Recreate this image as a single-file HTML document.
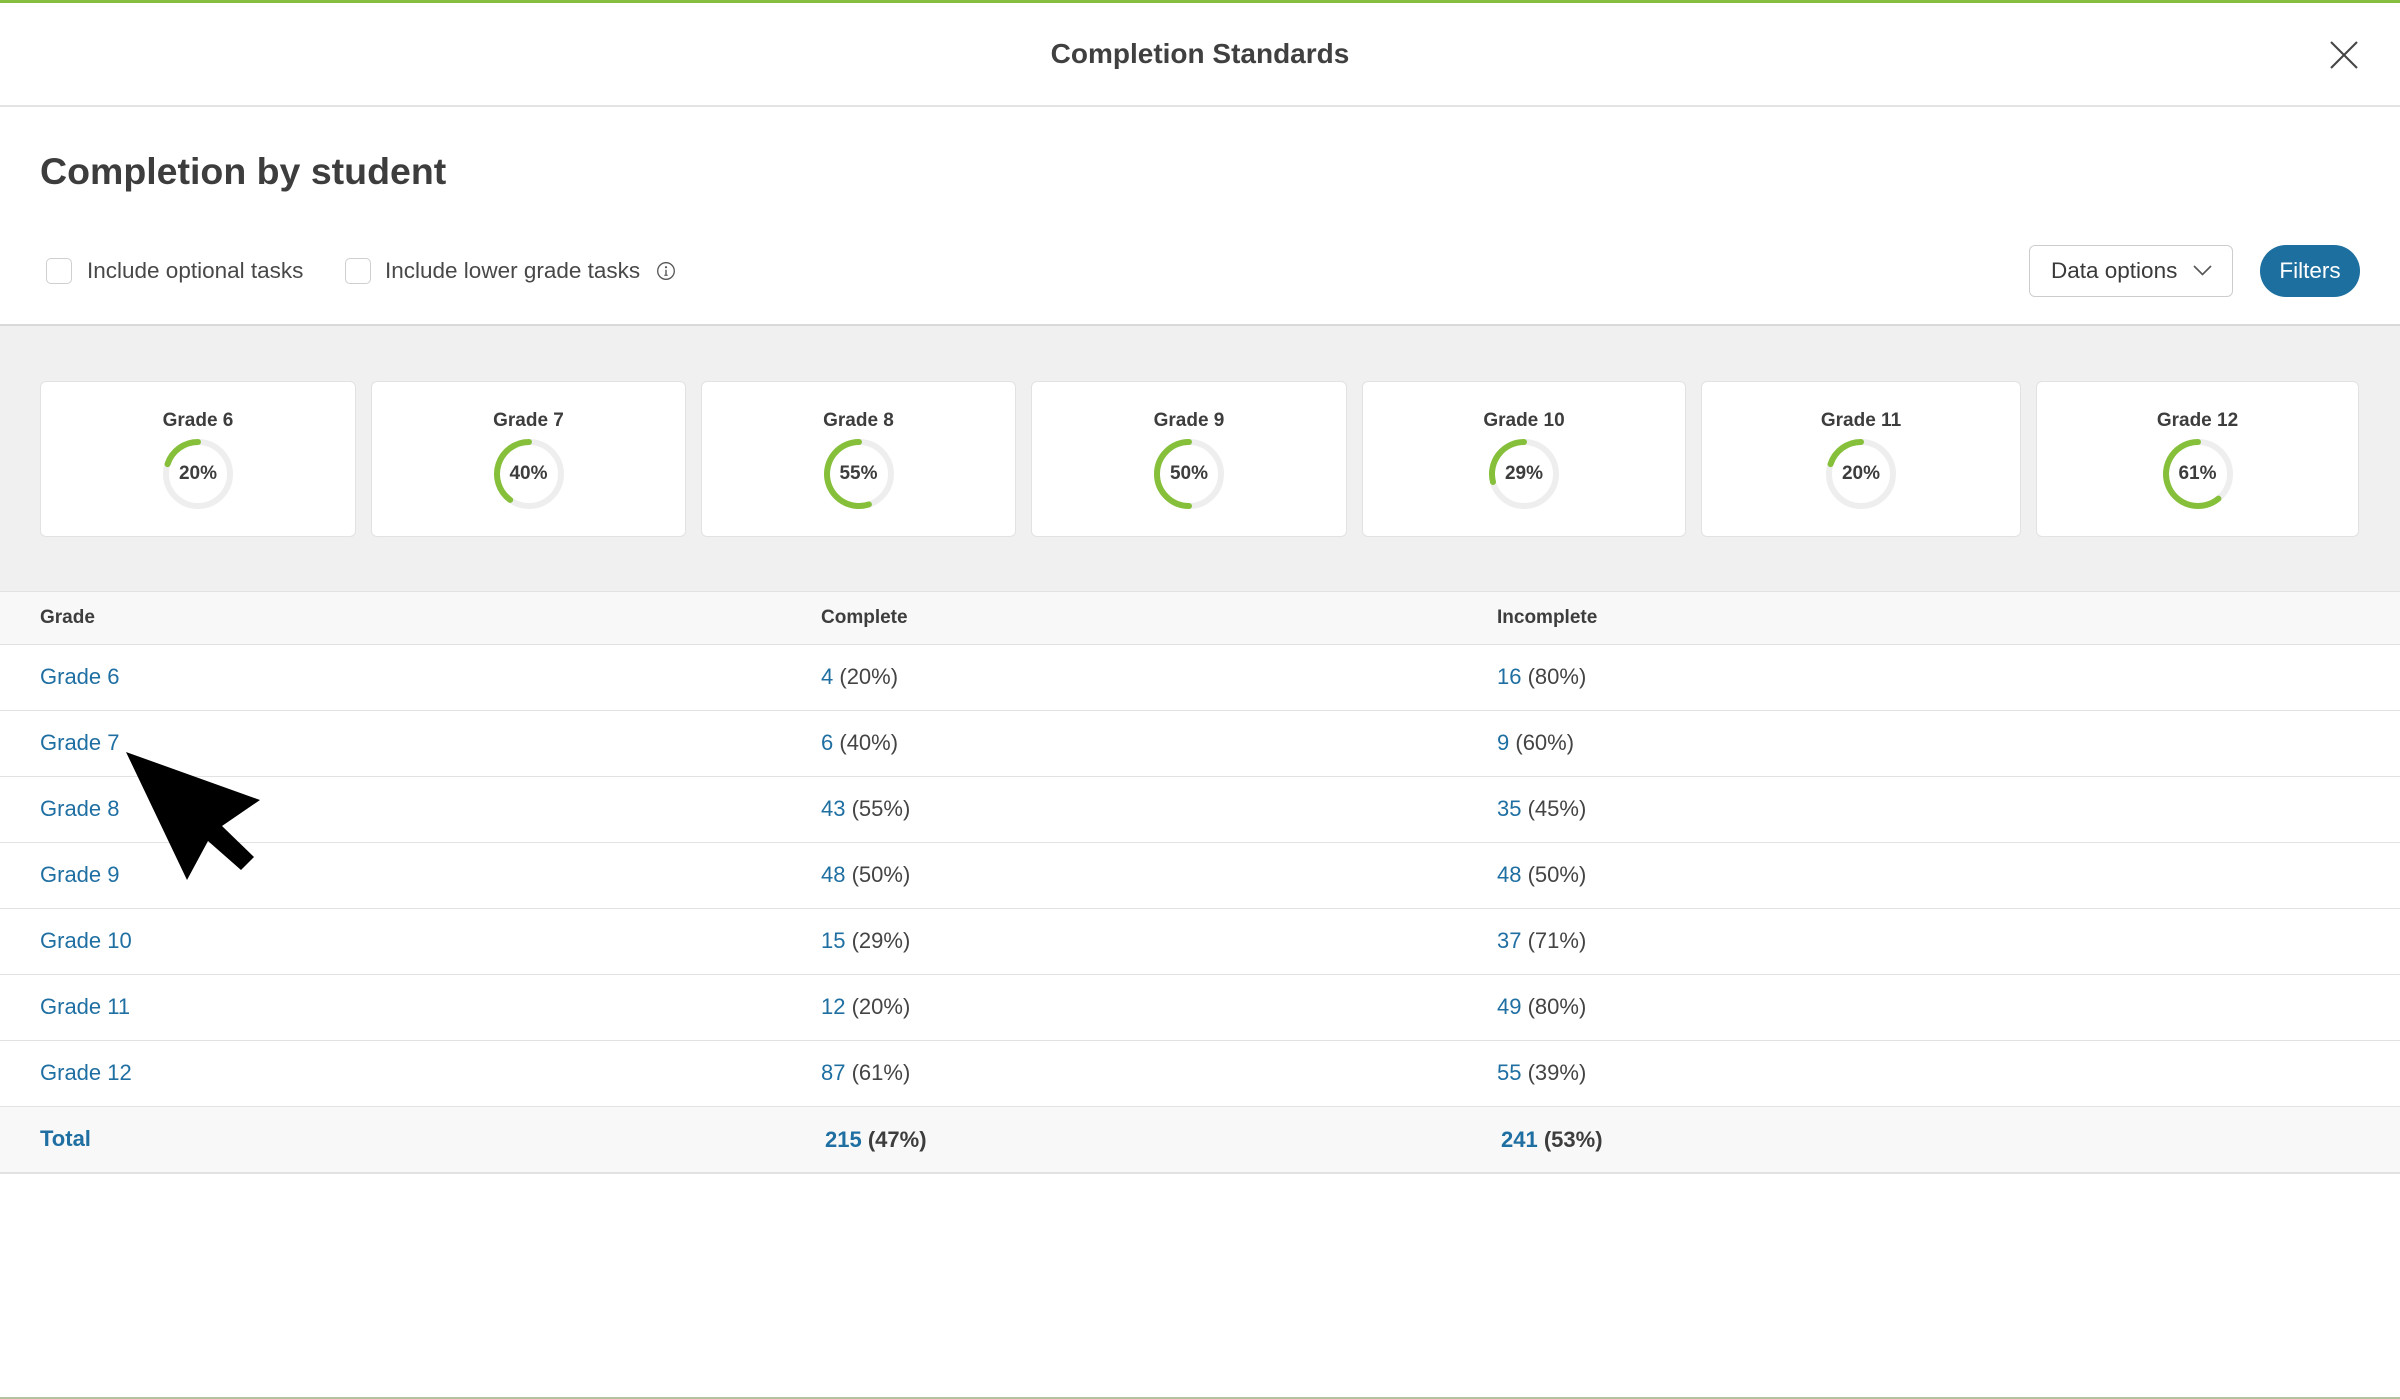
<!DOCTYPE html>
<html>
<head>
<meta charset="utf-8">
<style>
  html,body{margin:0;padding:0;}
  body{width:2400px;height:1399px;position:relative;background:#fff;overflow:hidden;font-family:"Liberation Sans",Arial,sans-serif;color:#404040;}
  .abs{position:absolute;}
  .t{position:absolute;white-space:nowrap;}
  .card{position:absolute;top:381px;height:154px;background:#fff;border:1px solid #e2e2e2;border-radius:6px;}
  .card .ct{position:absolute;left:0;right:0;top:29px;text-align:center;font-weight:bold;font-size:19px;line-height:19px;color:#3d3d3d;}
  .card svg{position:absolute;left:50%;top:52px;margin-left:-40px;}
  .card .pv{position:absolute;left:0;right:0;top:82px;text-align:center;font-weight:bold;font-size:19px;line-height:19px;color:#3d3d3d;}
  .hline{position:absolute;left:0;width:2400px;height:1px;background:#e2e2e2;}
  .cell{position:absolute;font-size:22px;line-height:22px;white-space:nowrap;color:#444;}
  .lnk{color:#1f6fa2;}
  .hd{position:absolute;font-size:19px;line-height:19px;font-weight:bold;color:#3d3d3d;white-space:nowrap;}
</style>
</head>
<body>
<!-- top green bar -->
<div class="abs" style="left:0;top:0;width:2400px;height:3px;background:#86bf3f;"></div>

<!-- header -->
<div class="t" style="left:0;width:2400px;top:40px;text-align:center;font-weight:bold;font-size:28px;line-height:28px;color:#404040;">Completion Standards</div>
<svg class="abs" style="left:2326px;top:37px;" width="36" height="36" viewBox="0 0 36 36">
  <line x1="5" y1="5" x2="31" y2="31" stroke="#444" stroke-width="2"/>
  <line x1="31" y1="5" x2="5" y2="31" stroke="#444" stroke-width="2"/>
</svg>
<div class="abs" style="left:0;top:105px;width:2400px;height:2px;background:#e4e4e4;"></div>

<!-- section heading -->
<div class="t" style="left:40px;top:153px;font-weight:bold;font-size:37.5px;line-height:37.5px;color:#3d3d3d;">Completion by student</div>

<!-- checkboxes -->
<div class="abs" style="left:46px;top:258px;width:24px;height:24px;border:1px solid #cfcfcf;border-radius:5px;background:#fff;"></div>
<div class="t" style="left:87px;top:260px;font-size:22.5px;line-height:22.5px;color:#484848;">Include optional tasks</div>
<div class="abs" style="left:345px;top:258px;width:24px;height:24px;border:1px solid #cfcfcf;border-radius:5px;background:#fff;"></div>
<div class="t" style="left:385px;top:260px;font-size:22.5px;line-height:22.5px;color:#484848;">Include lower grade tasks</div>
<svg class="abs" style="left:656px;top:261px;" width="20" height="20" viewBox="0 0 20 20">
  <circle cx="10" cy="10" r="8.3" fill="none" stroke="#555" stroke-width="1.3"/>
  <circle cx="10" cy="6.2" r="1.1" fill="#555"/>
  <line x1="10" y1="8.8" x2="10" y2="14.2" stroke="#555" stroke-width="1.4"/>
  <line x1="8.3" y1="14.3" x2="11.7" y2="14.3" stroke="#555" stroke-width="1.1"/>
</svg>

<!-- data options -->
<div class="abs" style="left:2029px;top:245px;width:202px;height:50px;border:1px solid #cdcdcd;border-radius:6px;background:#fff;"></div>
<div class="t" style="left:2051px;top:260px;font-size:22.5px;line-height:22.5px;color:#3a3a3a;">Data options</div>
<svg class="abs" style="left:2190px;top:260px;" width="26" height="20" viewBox="0 0 26 20">
  <polyline points="4,6 12.5,14.5 21,6" fill="none" stroke="#555" stroke-width="1.6"/>
</svg>
<!-- filters -->
<div class="abs" style="left:2260px;top:245px;width:100px;height:52px;border-radius:26px;background:#1c6f9e;"></div>
<div class="t" style="left:2260px;width:100px;top:260px;text-align:center;font-size:22.5px;line-height:22.5px;color:#fff;">Filters</div>

<!-- gray band -->
<div class="abs" style="left:0;top:324px;width:2400px;height:2px;background:#d9d9d9;"></div>
<div class="abs" style="left:0;top:326px;width:2400px;height:265px;background:#f0f0f0;"></div>

<!-- cards -->
<div class="card" style="left:40px;width:314px;">
  <div class="ct">Grade 6</div>
  <svg width="80" height="80" viewBox="0 0 80 80"><circle cx="40" cy="40" r="32" fill="none" stroke="#eeeeee" stroke-width="6"/><path d="M40 8 A32 32 0 0 0 9.57 30.11" fill="none" stroke="#86c03a" stroke-width="6" stroke-linecap="round"/></svg>
  <div class="pv">20%</div>
</div>
<div class="card" style="left:371px;width:313px;">
  <div class="ct">Grade 7</div>
  <svg width="80" height="80" viewBox="0 0 80 80"><circle cx="40" cy="40" r="32" fill="none" stroke="#eeeeee" stroke-width="6"/><path d="M40 8 A32 32 0 0 0 21.19 65.89" fill="none" stroke="#86c03a" stroke-width="6" stroke-linecap="round"/></svg>
  <div class="pv">40%</div>
</div>
<div class="card" style="left:701px;width:313px;">
  <div class="ct">Grade 8</div>
  <svg width="80" height="80" viewBox="0 0 80 80"><circle cx="40" cy="40" r="32" fill="none" stroke="#eeeeee" stroke-width="6"/><path d="M40 8 A32 32 0 1 0 49.89 70.43" fill="none" stroke="#86c03a" stroke-width="6" stroke-linecap="round"/></svg>
  <div class="pv">55%</div>
</div>
<div class="card" style="left:1031px;width:314px;">
  <div class="ct">Grade 9</div>
  <svg width="80" height="80" viewBox="0 0 80 80"><circle cx="40" cy="40" r="32" fill="none" stroke="#eeeeee" stroke-width="6"/><path d="M40 8 A32 32 0 0 0 40 72" fill="none" stroke="#86c03a" stroke-width="6" stroke-linecap="round"/></svg>
  <div class="pv">50%</div>
</div>
<div class="card" style="left:1362px;width:322px;">
  <div class="ct">Grade 10</div>
  <svg width="80" height="80" viewBox="0 0 80 80"><circle cx="40" cy="40" r="32" fill="none" stroke="#eeeeee" stroke-width="6"/><path d="M40 8 A32 32 0 0 0 9.00 47.96" fill="none" stroke="#86c03a" stroke-width="6" stroke-linecap="round"/></svg>
  <div class="pv">29%</div>
</div>
<div class="card" style="left:1701px;width:318px;">
  <div class="ct">Grade 11</div>
  <svg width="80" height="80" viewBox="0 0 80 80"><circle cx="40" cy="40" r="32" fill="none" stroke="#eeeeee" stroke-width="6"/><path d="M40 8 A32 32 0 0 0 9.57 30.11" fill="none" stroke="#86c03a" stroke-width="6" stroke-linecap="round"/></svg>
  <div class="pv">20%</div>
</div>
<div class="card" style="left:2036px;width:321px;">
  <div class="ct">Grade 12</div>
  <svg width="80" height="80" viewBox="0 0 80 80"><circle cx="40" cy="40" r="32" fill="none" stroke="#eeeeee" stroke-width="6"/><path d="M40 8 A32 32 0 1 0 60.40 64.66" fill="none" stroke="#86c03a" stroke-width="6" stroke-linecap="round"/></svg>
  <div class="pv">61%</div>
</div>

<!-- table header -->
<div class="hline" style="top:591px;"></div>
<div class="abs" style="left:0;top:592px;width:2400px;height:52px;background:#f8f8f8;"></div>
<div class="hd" style="left:40px;top:608px;">Grade</div>
<div class="hd" style="left:821px;top:608px;">Complete</div>
<div class="hd" style="left:1497px;top:608px;">Incomplete</div>
<div class="hline" style="top:644px;"></div>

<!-- rows -->
<div class="cell lnk" style="left:40px;top:666px;">Grade 6</div>
<div class="cell" style="left:821px;top:666px;"><span class="lnk">4</span> (20%)</div>
<div class="cell" style="left:1497px;top:666px;"><span class="lnk">16</span> (80%)</div>
<div class="hline" style="top:710px;"></div>

<div class="cell lnk" style="left:40px;top:732px;">Grade 7</div>
<div class="cell" style="left:821px;top:732px;"><span class="lnk">6</span> (40%)</div>
<div class="cell" style="left:1497px;top:732px;"><span class="lnk">9</span> (60%)</div>
<div class="hline" style="top:776px;"></div>

<div class="cell lnk" style="left:40px;top:798px;">Grade 8</div>
<div class="cell" style="left:821px;top:798px;"><span class="lnk">43</span> (55%)</div>
<div class="cell" style="left:1497px;top:798px;"><span class="lnk">35</span> (45%)</div>
<div class="hline" style="top:842px;"></div>

<div class="cell lnk" style="left:40px;top:864px;">Grade 9</div>
<div class="cell" style="left:821px;top:864px;"><span class="lnk">48</span> (50%)</div>
<div class="cell" style="left:1497px;top:864px;"><span class="lnk">48</span> (50%)</div>
<div class="hline" style="top:908px;"></div>

<div class="cell lnk" style="left:40px;top:930px;">Grade 10</div>
<div class="cell" style="left:821px;top:930px;"><span class="lnk">15</span> (29%)</div>
<div class="cell" style="left:1497px;top:930px;"><span class="lnk">37</span> (71%)</div>
<div class="hline" style="top:974px;"></div>

<div class="cell lnk" style="left:40px;top:996px;">Grade 11</div>
<div class="cell" style="left:821px;top:996px;"><span class="lnk">12</span> (20%)</div>
<div class="cell" style="left:1497px;top:996px;"><span class="lnk">49</span> (80%)</div>
<div class="hline" style="top:1040px;"></div>

<div class="cell lnk" style="left:40px;top:1062px;">Grade 12</div>
<div class="cell" style="left:821px;top:1062px;"><span class="lnk">87</span> (61%)</div>
<div class="cell" style="left:1497px;top:1062px;"><span class="lnk">55</span> (39%)</div>
<div class="hline" style="top:1106px;"></div>

<!-- total -->
<div class="abs" style="left:0;top:1107px;width:2400px;height:65px;background:#f8f8f8;"></div>
<div class="cell lnk" style="left:40px;top:1128px;font-weight:bold;">Total</div>
<div class="cell" style="left:825px;top:1129px;font-weight:bold;color:#3d3d3d;"><span class="lnk">215</span> (47%)</div>
<div class="cell" style="left:1501px;top:1129px;font-weight:bold;color:#3d3d3d;"><span class="lnk">241</span> (53%)</div>
<div class="abs" style="left:0;top:1172px;width:2400px;height:2px;background:#e2e2e2;"></div>

<!-- bottom line -->
<div class="abs" style="left:0;top:1397px;width:2400px;height:2px;background:#b3c3a0;"></div>

<!-- cursor -->
<svg class="abs" style="left:0;top:0;" width="2400" height="1399" viewBox="0 0 2400 1399">
  <polygon points="126,752 260,800 222,826 254,857 241,870 208,841 187,880" fill="#000"/>
</svg>
</body>
</html>
